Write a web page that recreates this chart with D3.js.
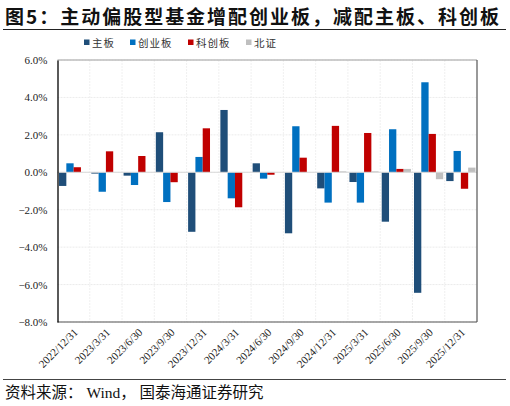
<!DOCTYPE html>
<html>
<head>
<meta charset="utf-8">
<script src="https://cdn.jsdelivr.net/npm/d3@7"></script>
<style>
  body { margin: 0; background: #fff; }
  svg { display: block; }
</style>
</head>
<body>
<svg id="chart" width="510" height="406"></svg>
<script>
const categories = ['2022/12/31', '2023/3/31', '2023/6/30', '2023/9/30', '2023/12/31', '2024/3/31',
  '2024/6/30', '2024/9/30', '2024/12/31', '2025/3/31', '2025/6/30', '2025/9/30', '2025/12/31'];
const seriesNames = ['主板', '创业板', '科创板', '北证'];
const mainBoard = [-0.73, -0.07, -0.18, 2.14, -3.18, 3.33, 0.48, -3.26, -0.86, -0.52, -2.64, -6.44, -0.47];
const chiNext = [0.48, -1.04, -0.68, -1.59, 0.82, -1.39, -0.34, 2.46, -1.62, -1.62, 2.30, 4.81, 1.14];
const starMarket = [0.27, 1.12, 0.87, -0.53, 2.35, -1.87, -0.13, 0.78, 2.48, 2.10, 0.18, 2.05, -0.88];
const beiZheng = [0, 0, 0, 0, 0, 0, 0, 0, 0.05, 0.05, 0.18, -0.37, 0.25];
const yTicks = [6, 4, 2, 0, -2, -4, -6, -8];
const colors = ['#1F4E79', '#0070C0', '#C00000', '#BFBFBF'];

const seriesValues = [mainBoard, chiNext, starMarket, beiZheng];

const svg = d3.select('#chart');
const cjk = '"Noto Sans CJK SC", sans-serif';
const serif = '"Liberation Serif", "Times New Roman", serif';

const plotLeft = 57.5, plotRight = 477, plotTop = 60, plotBottom = 322;

const x = d3.scaleBand().domain(categories).range([plotLeft, plotRight]).paddingInner(0).paddingOuter(0);
const xInner = d3.scaleBand().domain(seriesNames).range([0, x.bandwidth()]).paddingOuter(0.21).paddingInner(0);
const y = d3.scaleLinear().domain([-8, 6]).range([plotBottom, plotTop]);

// title
svg.append('text')
  .attr('x', 5).attr('y', 24)
  .attr('font-family', cjk).attr('font-weight', 'bold').attr('font-size', 19)
  .attr('fill', '#111')
  .attr('textLength', 494).attr('lengthAdjust', 'spacing')
  .text('图5：主动偏股型基金增配创业板，减配主板、科创板');
svg.append('line')
  .attr('x1', 3).attr('x2', 506).attr('y1', 29.5).attr('y2', 29.5)
  .attr('stroke', '#222').attr('stroke-width', 1.2);

// grid
const grid = svg.append('g').attr('class', 'grid');
yTicks.forEach((t) => {
  grid.append('line')
    .attr('x1', plotLeft).attr('x2', plotRight).attr('y1', y(t)).attr('y2', y(t))
    .attr('stroke', '#e6e6e6').attr('stroke-width', 0.8).attr('stroke-dasharray', '2,1');
});
categories.forEach((c, i) => {
  if (i === 0) return;
  grid.append('line')
    .attr('x1', x(c)).attr('x2', x(c)).attr('y1', plotTop).attr('y2', plotBottom)
    .attr('stroke', '#ececec').attr('stroke-width', 0.8).attr('stroke-dasharray', '2,1');
});

// bars
const bars = svg.append('g').attr('class', 'bars');
seriesValues.forEach((vals, s) => {
  vals.forEach((v, i) => {
    if (v === 0) return;
    bars.append('rect')
      .attr('x', x(categories[i]) + xInner(seriesNames[s]))
      .attr('y', y(Math.max(v, 0)))
      .attr('width', xInner.bandwidth())
      .attr('height', Math.abs(y(v) - y(0)))
      .attr('fill', colors[s]);
  });
});

// zero line
svg.append('line')
  .attr('x1', plotLeft).attr('x2', plotRight).attr('y1', y(0)).attr('y2', y(0))
  .attr('stroke', '#d9d9d9').attr('stroke-width', 1);

// frame
svg.append('line').attr('x1', plotLeft).attr('x2', plotRight).attr('y1', plotTop).attr('y2', plotTop)
  .attr('stroke', '#a0a0a0').attr('stroke-width', 1);
svg.append('line').attr('x1', plotRight).attr('x2', plotRight).attr('y1', plotTop).attr('y2', plotBottom)
  .attr('stroke', '#555').attr('stroke-width', 1.2);
svg.append('line').attr('x1', plotLeft).attr('x2', plotRight).attr('y1', plotBottom).attr('y2', plotBottom)
  .attr('stroke', '#555').attr('stroke-width', 1.2);

// y axis
const yAxis = svg.append('g')
  .attr('transform', `translate(${plotLeft},0)`)
  .call(d3.axisLeft(y).tickValues(yTicks).tickSize(0).tickPadding(10)
    .tickFormat((d) => d3.format('.1f')(d) + '%'));
yAxis.select('.domain').attr('stroke', '#000').attr('stroke-width', 1.3);
yAxis.selectAll('text')
  .attr('font-family', serif).attr('font-size', 11).attr('fill', '#222');

// x axis labels
const xAxis = svg.append('g')
  .attr('transform', `translate(0,${plotBottom})`)
  .call(d3.axisBottom(x).tickSize(0).tickPadding(0));
xAxis.select('.domain').remove();
xAxis.selectAll('text')
  .attr('font-family', serif).attr('font-size', 11).attr('fill', '#222')
  .attr('text-anchor', 'end')
  .attr('dy', 0)
  .attr('transform', 'translate(5,11) rotate(-45)');

// legend
const legend = svg.append('g').attr('class', 'legend');
const legendX = [84, 130, 188, 246];
seriesNames.forEach((name, i) => {
  legend.append('rect')
    .attr('x', legendX[i]).attr('y', 39.5).attr('width', 5.5).attr('height', 5.5)
    .attr('fill', colors[i]);
  legend.append('text')
    .attr('x', legendX[i] + 8).attr('y', 46.5)
    .attr('font-family', cjk).attr('font-size', 10.5).attr('fill', '#333')
    .attr('letter-spacing', 1)
    .text(name);
});

// footer
svg.append('line')
  .attr('x1', 3).attr('x2', 506).attr('y1', 379.5).attr('y2', 379.5)
  .attr('stroke', '#444').attr('stroke-width', 1);
svg.append('text')
  .attr('x', 5).attr('y', 398)
  .attr('font-family', '"Liberation Serif", "Noto Sans CJK SC", serif')
  .attr('font-size', 15.5).attr('fill', '#111')
  .style('white-space', 'pre')
  .text('资料来源： Wind， 国泰海通证券研究');
</script>
</body>
</html>
